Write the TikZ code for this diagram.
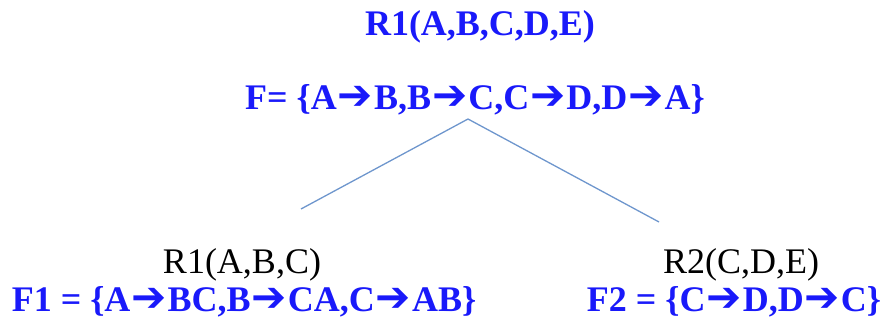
\documentclass[tikz,border=0pt]{standalone}
\usepackage{fontspec}
\setmainfont{Liberation Serif}
\newfontfamily\arrowfont{DejaVu Sans}
\newcommand{\fd}{\kern1pt\smash{\arrowfont\fontsize{42}{42}\selectfont ➔}\kern1pt}
\definecolor{fdblue}{RGB}{25,25,250}
\definecolor{treeline}{RGB}{110,150,205}
\tikzset{
  lbl/.style={font=\fontsize{36}{42}\selectfont, anchor=base, inner sep=0pt},
  fds/.style={lbl, text=fdblue, font=\fontsize{36}{42}\selectfont\bfseries}
}
\begin{document}
\begin{tikzpicture}[x=1pt,y=-1pt]
\useasboundingbox (0,0) rectangle (885,320);
\node[fds] (r) at (480,36) {R1(A,B,C,D,E)};
\node[fds] (f) at (475,110) {F= \{A\fd B,B\fd C,C\fd D,D\fd A\}};
\node[lbl] (r1) at (242,273) {R1(A,B,C)};
\node[fds] (f1) at (244,311) {F1 = \{A\fd BC,B\fd CA,C\fd AB\}};
\node[lbl] (r2) at (741,273) {R2(C,D,E)};
\node[fds] (f2) at (734,311) {F2 = \{C\fd D,D\fd C\}};
\coordinate (top) at (468,119);
\coordinate (left) at (301,209);
\coordinate (right) at (659,222);
\draw[treeline,line width=1.3pt] (left) -- (top) -- (right);
\end{tikzpicture}
\end{document}
